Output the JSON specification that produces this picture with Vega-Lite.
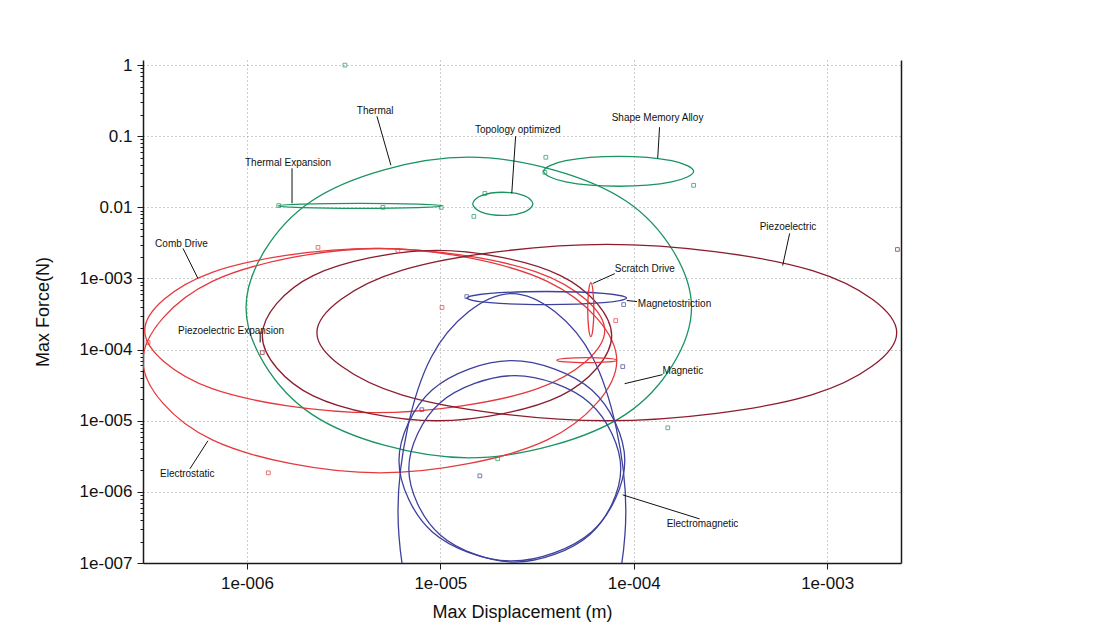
{
  "$schema": "https://vega.github.io/schema/vega-lite/v6.json",
  "width": 758,
  "height": 503,
  "autosize": {"type": "none"},
  "padding": {"left": 143, "top": 60, "right": 208, "bottom": 81},
  "background": "white",
  "config": {
    "view": {"stroke": null},
    "font": "Liberation Sans",
    "axis": {
      "domainColor": "#1a1a1a",
      "domainWidth": 1.5,
      "tickColor": "#1a1a1a",
      "labelColor": "#111",
      "titleColor": "#111",
      "labelFont": "Liberation Sans",
      "titleFont": "Liberation Sans",
      "labelFontSize": 17,
      "titleFontSize": 18,
      "titleFontWeight": "normal",
      "gridColor": "#9a9a9a",
      "gridDash": [1, 3],
      "gridWidth": 1
    }
  },
  "datasets": {
    "curves": [
      {"s": "Thermal", "g": "green", "i": 0, "x": 1.99e-4, "y": 3.91e-4},
      {"s": "Thermal", "g": "green", "i": 1, "x": 9.16e-5, "y": 1.22e-2},
      {"s": "Thermal", "g": "green", "i": 2, "x": 1.40e-5, "y": 5.07e-2},
      {"s": "Thermal", "g": "green", "i": 3, "x": 2.15e-6, "y": 1.22e-2},
      {"s": "Thermal", "g": "green", "i": 4, "x": 9.89e-7, "y": 3.91e-4},
      {"s": "Thermal", "g": "green", "i": 5, "x": 2.15e-6, "y": 1.25e-5},
      {"s": "Thermal", "g": "green", "i": 6, "x": 1.40e-5, "y": 3.01e-6},
      {"s": "Thermal", "g": "green", "i": 7, "x": 9.16e-5, "y": 1.25e-5},

      {"s": "Electrostatic", "g": "red", "i": 0, "x": 8.17e-5, "y": 7.00e-5},
      {"s": "Electrostatic", "g": "red", "i": 1, "x": 3.57e-5, "y": 9.12e-4},
      {"s": "Electrostatic", "g": "red", "i": 2, "x": 4.86e-6, "y": 2.64e-3},
      {"s": "Electrostatic", "g": "red", "i": 3, "x": 6.62e-7, "y": 9.12e-4},
      {"s": "Electrostatic", "g": "red", "i": 4, "x": 2.90e-7, "y": 7.00e-5},
      {"s": "Electrostatic", "g": "red", "i": 5, "x": 6.62e-7, "y": 5.37e-6},
      {"s": "Electrostatic", "g": "red", "i": 6, "x": 4.86e-6, "y": 1.85e-6},
      {"s": "Electrostatic", "g": "red", "i": 7, "x": 3.57e-5, "y": 5.37e-6},

      {"s": "Comb Drive", "g": "red", "i": 0, "x": 7.08e-5, "y": 1.85e-4},
      {"s": "Comb Drive", "g": "red", "i": 1, "x": 3.18e-5, "y": 1.22e-3},
      {"s": "Comb Drive", "g": "red", "i": 2, "x": 4.58e-6, "y": 2.65e-3},
      {"s": "Comb Drive", "g": "red", "i": 3, "x": 6.61e-7, "y": 1.22e-3},
      {"s": "Comb Drive", "g": "red", "i": 4, "x": 2.96e-7, "y": 1.85e-4},
      {"s": "Comb Drive", "g": "red", "i": 5, "x": 6.61e-7, "y": 2.82e-5},
      {"s": "Comb Drive", "g": "red", "i": 6, "x": 4.58e-6, "y": 1.30e-5},
      {"s": "Comb Drive", "g": "red", "i": 7, "x": 3.18e-5, "y": 2.82e-5},

      {"s": "Piezoelectric", "g": "maroon", "i": 0, "x": 2.29e-3, "y": 1.73e-4},
      {"s": "Piezoelectric", "g": "maroon", "i": 1, "x": 8.32e-4, "y": 1.30e-3},
      {"s": "Piezoelectric", "g": "maroon", "i": 2, "x": 7.24e-5, "y": 3.01e-3},
      {"s": "Piezoelectric", "g": "maroon", "i": 3, "x": 6.31e-6, "y": 1.30e-3},
      {"s": "Piezoelectric", "g": "maroon", "i": 4, "x": 2.30e-6, "y": 1.73e-4},
      {"s": "Piezoelectric", "g": "maroon", "i": 5, "x": 6.31e-6, "y": 2.31e-5},
      {"s": "Piezoelectric", "g": "maroon", "i": 6, "x": 7.24e-5, "y": 1.00e-5},
      {"s": "Piezoelectric", "g": "maroon", "i": 7, "x": 8.32e-4, "y": 2.31e-5},

      {"s": "Piezoelectric Expansion", "g": "maroon", "i": 0, "x": 7.69e-5, "y": 1.57e-4},
      {"s": "Piezoelectric Expansion", "g": "maroon", "i": 1, "x": 4.18e-5, "y": 1.10e-3},
      {"s": "Piezoelectric Expansion", "g": "maroon", "i": 2, "x": 9.59e-6, "y": 2.48e-3},
      {"s": "Piezoelectric Expansion", "g": "maroon", "i": 3, "x": 2.20e-6, "y": 1.10e-3},
      {"s": "Piezoelectric Expansion", "g": "maroon", "i": 4, "x": 1.20e-6, "y": 1.57e-4},
      {"s": "Piezoelectric Expansion", "g": "maroon", "i": 5, "x": 2.20e-6, "y": 2.24e-5},
      {"s": "Piezoelectric Expansion", "g": "maroon", "i": 6, "x": 9.59e-6, "y": 1.00e-5},
      {"s": "Piezoelectric Expansion", "g": "maroon", "i": 7, "x": 4.18e-5, "y": 2.24e-5},

      {"s": "Electromagnetic A", "g": "blue", "i": 0, "x": 8.99e-5, "y": 2.74e-6},
      {"s": "Electromagnetic A", "g": "blue", "i": 1, "x": 6.07e-5, "y": 2.71e-5},
      {"s": "Electromagnetic A", "g": "blue", "i": 2, "x": 2.34e-5, "y": 7.00e-5},
      {"s": "Electromagnetic A", "g": "blue", "i": 3, "x": 9.06e-6, "y": 2.71e-5},
      {"s": "Electromagnetic A", "g": "blue", "i": 4, "x": 6.11e-6, "y": 2.74e-6},
      {"s": "Electromagnetic A", "g": "blue", "i": 5, "x": 9.06e-6, "y": 2.76e-7},
      {"s": "Electromagnetic A", "g": "blue", "i": 6, "x": 2.34e-5, "y": 1.07e-7},
      {"s": "Electromagnetic A", "g": "blue", "i": 7, "x": 6.07e-5, "y": 2.76e-7},

      {"s": "Electromagnetic B", "g": "blue", "i": 0, "x": 8.57e-5, "y": 2.11e-6},
      {"s": "Electromagnetic B", "g": "blue", "i": 1, "x": 5.92e-5, "y": 1.78e-5},
      {"s": "Electromagnetic B", "g": "blue", "i": 2, "x": 2.43e-5, "y": 4.31e-5},
      {"s": "Electromagnetic B", "g": "blue", "i": 3, "x": 9.95e-6, "y": 1.78e-5},
      {"s": "Electromagnetic B", "g": "blue", "i": 4, "x": 6.87e-6, "y": 2.11e-6},
      {"s": "Electromagnetic B", "g": "blue", "i": 5, "x": 9.95e-6, "y": 2.50e-7},
      {"s": "Electromagnetic B", "g": "blue", "i": 6, "x": 2.43e-5, "y": 1.03e-7},
      {"s": "Electromagnetic B", "g": "blue", "i": 7, "x": 5.92e-5, "y": 2.50e-7},

      {"s": "Magnetic", "g": "blue", "i": 0, "x": 9.10e-5, "y": 5.40e-7},
      {"s": "Magnetic", "g": "blue", "i": 1, "x": 6.12e-5, "y": 7.82e-5},
      {"s": "Magnetic", "g": "blue", "i": 2, "x": 2.34e-5, "y": 6.14e-4},
      {"s": "Magnetic", "g": "blue", "i": 3, "x": 8.97e-6, "y": 7.82e-5},
      {"s": "Magnetic", "g": "blue", "i": 4, "x": 6.04e-6, "y": 5.40e-7},
      {"s": "Magnetic", "g": "blue", "i": 5, "x": 8.97e-6, "y": 3.72e-9},
      {"s": "Magnetic", "g": "blue", "i": 6, "x": 2.34e-5, "y": 4.74e-10},
      {"s": "Magnetic", "g": "blue", "i": 7, "x": 6.12e-5, "y": 3.72e-9},

      {"s": "Thermal Expansion", "g": "green", "i": 0, "x": 1.02e-5, "y": 1.05e-2},
      {"s": "Thermal Expansion", "g": "green", "i": 1, "x": 7.66e-6, "y": 1.11e-2},
      {"s": "Thermal Expansion", "g": "green", "i": 2, "x": 3.84e-6, "y": 1.14e-2},
      {"s": "Thermal Expansion", "g": "green", "i": 3, "x": 1.92e-6, "y": 1.11e-2},
      {"s": "Thermal Expansion", "g": "green", "i": 4, "x": 1.45e-6, "y": 1.05e-2},
      {"s": "Thermal Expansion", "g": "green", "i": 5, "x": 1.92e-6, "y": 9.91e-3},
      {"s": "Thermal Expansion", "g": "green", "i": 6, "x": 3.84e-6, "y": 9.68e-3},
      {"s": "Thermal Expansion", "g": "green", "i": 7, "x": 7.66e-6, "y": 9.91e-3},

      {"s": "Topology optimized", "g": "green", "i": 0, "x": 3.01e-5, "y": 1.12e-2},
      {"s": "Topology optimized", "g": "green", "i": 1, "x": 2.71e-5, "y": 1.46e-2},
      {"s": "Topology optimized", "g": "green", "i": 2, "x": 2.10e-5, "y": 1.63e-2},
      {"s": "Topology optimized", "g": "green", "i": 3, "x": 1.63e-5, "y": 1.46e-2},
      {"s": "Topology optimized", "g": "green", "i": 4, "x": 1.47e-5, "y": 1.12e-2},
      {"s": "Topology optimized", "g": "green", "i": 5, "x": 1.63e-5, "y": 8.59e-3},
      {"s": "Topology optimized", "g": "green", "i": 6, "x": 2.10e-5, "y": 7.71e-3},
      {"s": "Topology optimized", "g": "green", "i": 7, "x": 2.71e-5, "y": 8.59e-3},

      {"s": "Shape Memory Alloy", "g": "green", "i": 0, "x": 2.04e-4, "y": 3.21e-2},
      {"s": "Shape Memory Alloy", "g": "green", "i": 1, "x": 1.57e-4, "y": 4.53e-2},
      {"s": "Shape Memory Alloy", "g": "green", "i": 2, "x": 8.36e-5, "y": 5.22e-2},
      {"s": "Shape Memory Alloy", "g": "green", "i": 3, "x": 4.45e-5, "y": 4.53e-2},
      {"s": "Shape Memory Alloy", "g": "green", "i": 4, "x": 3.42e-5, "y": 3.21e-2},
      {"s": "Shape Memory Alloy", "g": "green", "i": 5, "x": 4.45e-5, "y": 2.28e-2},
      {"s": "Shape Memory Alloy", "g": "green", "i": 6, "x": 8.36e-5, "y": 1.98e-2},
      {"s": "Shape Memory Alloy", "g": "green", "i": 7, "x": 1.57e-4, "y": 2.28e-2},

      {"s": "Magnetostriction", "g": "blue", "i": 0, "x": 9.18e-5, "y": 5.31e-4},
      {"s": "Magnetostriction", "g": "blue", "i": 1, "x": 6.95e-5, "y": 6.17e-4},
      {"s": "Magnetostriction", "g": "blue", "i": 2, "x": 3.55e-5, "y": 6.56e-4},
      {"s": "Magnetostriction", "g": "blue", "i": 3, "x": 1.81e-5, "y": 6.17e-4},
      {"s": "Magnetostriction", "g": "blue", "i": 4, "x": 1.37e-5, "y": 5.31e-4},
      {"s": "Magnetostriction", "g": "blue", "i": 5, "x": 1.81e-5, "y": 4.57e-4},
      {"s": "Magnetostriction", "g": "blue", "i": 6, "x": 3.55e-5, "y": 4.30e-4},
      {"s": "Magnetostriction", "g": "blue", "i": 7, "x": 6.95e-5, "y": 4.57e-4},

      {"s": "Scratch Drive", "g": "red", "i": 0, "x": 6.22e-5, "y": 3.66e-4},
      {"s": "Scratch Drive", "g": "red", "i": 1, "x": 6.15e-5, "y": 6.79e-4},
      {"s": "Scratch Drive", "g": "red", "i": 2, "x": 6.00e-5, "y": 8.77e-4},
      {"s": "Scratch Drive", "g": "red", "i": 3, "x": 5.85e-5, "y": 6.79e-4},
      {"s": "Scratch Drive", "g": "red", "i": 4, "x": 5.78e-5, "y": 3.66e-4},
      {"s": "Scratch Drive", "g": "red", "i": 5, "x": 5.85e-5, "y": 1.97e-4},
      {"s": "Scratch Drive", "g": "red", "i": 6, "x": 6.00e-5, "y": 1.52e-4},
      {"s": "Scratch Drive", "g": "red", "i": 7, "x": 6.15e-5, "y": 1.97e-4},

      {"s": "Scratch Drive B", "g": "red", "i": 0, "x": 8.17e-5, "y": 7.11e-5},
      {"s": "Scratch Drive B", "g": "red", "i": 1, "x": 7.36e-5, "y": 7.53e-5},
      {"s": "Scratch Drive B", "g": "red", "i": 2, "x": 5.71e-5, "y": 7.71e-5},
      {"s": "Scratch Drive B", "g": "red", "i": 3, "x": 4.44e-5, "y": 7.53e-5},
      {"s": "Scratch Drive B", "g": "red", "i": 4, "x": 4.00e-5, "y": 7.11e-5},
      {"s": "Scratch Drive B", "g": "red", "i": 5, "x": 4.44e-5, "y": 6.71e-5},
      {"s": "Scratch Drive B", "g": "red", "i": 6, "x": 5.71e-5, "y": 6.56e-5},
      {"s": "Scratch Drive B", "g": "red", "i": 7, "x": 7.36e-5, "y": 6.71e-5}
    ],
    "leaders": [
      {"s": "Thermal", "x": 4.70e-6, "y": 0.191, "x2": 5.55e-6, "y2": 0.0391},
      {"s": "Thermal Expansion", "x": 1.71e-6, "y": 0.0354, "x2": 1.71e-6, "y2": 0.0114},
      {"s": "Topology optimized", "x": 2.45e-5, "y": 0.1, "x2": 2.34e-5, "y2": 0.0157},
      {"s": "Shape Memory Alloy", "x": 1.36e-4, "y": 0.134, "x2": 1.33e-4, "y2": 0.049},
      {"s": "Comb Drive", "x": 4.67e-7, "y": 2.65e-3, "x2": 5.58e-7, "y2": 1.0e-3},
      {"s": "Piezoelectric", "x": 6.40e-4, "y": 4.31e-3, "x2": 5.89e-4, "y2": 1.52e-3},
      {"s": "Scratch Drive", "x": 7.98e-5, "y": 1.17e-3, "x2": 6.14e-5, "y2": 8.51e-4},
      {"s": "Magnetostriction", "x": 9.20e-5, "y": 4.90e-4, "x2": 1.04e-4, "y2": 4.74e-4},
      {"s": "Piezoelectric Expansion", "x": 1.17e-6, "y": 1.79e-4, "x2": 1.17e-6, "y2": 1.26e-4},
      {"s": "Magnetic", "x": 1.41e-4, "y": 4.45e-5, "x2": 8.97e-5, "y2": 3.32e-5},
      {"s": "Electrostatic", "x": 5.07e-7, "y": 2.11e-6, "x2": 6.28e-7, "y2": 5.22e-6},
      {"s": "Electromagnetic", "x": 8.77e-5, "y": 9.08e-7, "x2": 2.19e-4, "y2": 4.17e-7}
    ],
    "labels": [
      {"t": "Thermal", "x": 3.70e-6, "y": 0.225},
      {"t": "Thermal Expansion", "x": 9.77e-7, "y": 0.0417},
      {"t": "Topology optimized", "x": 1.51e-5, "y": 0.122},
      {"t": "Shape Memory Alloy", "x": 7.69e-5, "y": 0.179},
      {"t": "Comb Drive", "x": 3.35e-7, "y": 3.01e-3},
      {"t": "Piezoelectric", "x": 4.48e-4, "y": 5.22e-3},
      {"t": "Scratch Drive", "x": 7.98e-5, "y": 1.38e-3},
      {"t": "Magnetostriction", "x": 1.05e-4, "y": 4.45e-4},
      {"t": "Piezoelectric Expansion", "x": 4.40e-7, "y": 1.85e-4},
      {"t": "Magnetic", "x": 1.41e-4, "y": 5.06e-5},
      {"t": "Electrostatic", "x": 3.55e-7, "y": 1.79e-6},
      {"t": "Electromagnetic", "x": 1.48e-4, "y": 3.54e-7}
    ],
    "markers": [
      {"g": "green", "f": 0, "x": 3.21e-6, "y": 1.0},
      {"g": "green", "f": 0, "x": 1.46e-6, "y": 1.06e-2},
      {"g": "green", "f": 0, "x": 5.05e-6, "y": 1.0e-2},
      {"g": "green", "f": 0, "x": 1.01e-5, "y": 1.0e-2},
      {"g": "green", "f": 0, "x": 1.70e-5, "y": 1.57e-2},
      {"g": "green", "f": 0, "x": 1.49e-5, "y": 7.46e-3},
      {"g": "green", "f": 0, "x": 3.51e-5, "y": 5.06e-2},
      {"g": "green", "f": 0, "x": 3.47e-5, "y": 3.11e-2},
      {"g": "green", "f": 0, "x": 2.04e-4, "y": 2.04e-2},
      {"g": "green", "f": 0, "x": 1.50e-4, "y": 7.96e-6},
      {"g": "green", "f": 0, "x": 1.98e-5, "y": 2.92e-6},
      {"g": "red", "f": 0, "x": 2.33e-6, "y": 2.74e-3},
      {"g": "red", "f": 0, "x": 6.03e-6, "y": 2.48e-3},
      {"g": "red", "f": 0, "x": 3.08e-7, "y": 1.26e-4},
      {"g": "red", "f": 0, "x": 1.29e-6, "y": 1.85e-6},
      {"g": "red", "f": 0, "x": 1.02e-5, "y": 3.91e-4},
      {"g": "red", "f": 0, "x": 8.07e-5, "y": 2.56e-4},
      {"g": "maroon", "f": 1, "x": 1.20e-6, "y": 9.08e-5},
      {"g": "maroon", "f": 0, "x": 2.31e-3, "y": 2.56e-3},
      {"g": "blue", "f": 0, "x": 1.37e-5, "y": 5.57e-4},
      {"g": "blue", "f": 0, "x": 8.87e-5, "y": 4.30e-4},
      {"g": "blue", "f": 0, "x": 8.77e-5, "y": 5.77e-5},
      {"g": "blue", "f": 0, "x": 1.60e-5, "y": 1.68e-6},
      {"g": "blue", "f": 0, "x": 8.02e-6, "y": 1.43e-5}
    ]
  },
  "resolve": {"axis": {"y": "independent"}},
  "layer": [
    {
      "data": {"name": "curves"},
      "mark": {"type": "line", "interpolate": "cardinal-closed", "strokeWidth": 1.3, "clip": true},
      "encoding": {
        "x": {
          "field": "x", "type": "quantitative",
          "scale": {"type": "log", "domain": [2.90e-7, 2.41e-3], "nice": false},
          "axis": {
            "title": "Max Displacement (m)",
            "values": [1e-6, 1e-5, 1e-4, 1e-3],
            "labelExpr": "'1e-00' + format(-round(log(datum.value)/LN10), 'd')",
            "tickSize": 6,
            "labelPadding": 6,
            "titlePadding": 12,
            "labelFlush": false,
            "labelOverlap": false,
            "grid": true
          }
        },
        "y": {
          "field": "y", "type": "quantitative",
          "scale": {"type": "log", "domain": [1e-7, 1.18], "nice": false},
          "axis": {
            "title": "Max Force(N)",
            "values": [1e-7, 2e-7, 3e-7, 4e-7, 5e-7, 6e-7, 7e-7, 8e-7, 9e-7,
                       1e-6, 2e-6, 3e-6, 4e-6, 5e-6, 6e-6, 7e-6, 8e-6, 9e-6,
                       1e-5, 2e-5, 3e-5, 4e-5, 5e-5, 6e-5, 7e-5, 8e-5, 9e-5,
                       1e-4, 2e-4, 3e-4, 4e-4, 5e-4, 6e-4, 7e-4, 8e-4, 9e-4,
                       1e-3, 2e-3, 3e-3, 4e-3, 5e-3, 6e-3, 7e-3, 8e-3, 9e-3,
                       1e-2, 2e-2, 3e-2, 4e-2, 5e-2, 6e-2, 7e-2, 8e-2, 9e-2,
                       1e-1, 2e-1, 3e-1, 4e-1, 5e-1, 6e-1, 7e-1, 8e-1, 9e-1, 1],
            "labelExpr": "abs(log(datum.value)/LN10 - round(log(datum.value)/LN10)) > 0.01 ? '' : (datum.value >= 0.01 ? format(datum.value, '') : '1e-00' + format(-round(log(datum.value)/LN10), 'd'))",
            "labelOverlap": false,
            "labelBound": false,
            "labelFlush": false,
            "labelPadding": 5,
            "titlePadding": 27,
            "tickSize": {"condition": {"test": "abs(log(datum.value)/LN10 - round(log(datum.value)/LN10)) < 0.01", "value": 6}, "value": 3},
            "gridOpacity": {"condition": {"test": "abs(log(datum.value)/LN10 - round(log(datum.value)/LN10)) < 0.01", "value": 1}, "value": 0},
            "grid": true
          }
        },
        "color": {
          "field": "g", "type": "nominal",
          "scale": {"domain": ["green", "red", "maroon", "blue"], "range": ["#1a9460", "#e5393e", "#8c1d2e", "#3d409c"]},
          "legend": null
        },
        "detail": {"field": "s", "type": "nominal"},
        "order": {"field": "i", "type": "quantitative"}
      }
    },
    {
      "data": {"name": "leaders"},
      "mark": {"type": "rule", "color": "#111", "strokeWidth": 1, "clip": true},
      "encoding": {
        "x": {"field": "x", "type": "quantitative"},
        "x2": {"field": "x2"},
        "y": {"field": "y", "type": "quantitative", "axis": null},
        "y2": {"field": "y2"}
      }
    },
    {
      "data": {"name": "markers"},
      "mark": {"type": "point", "shape": "square", "size": 14, "strokeWidth": 1, "clip": true},
      "encoding": {
        "x": {"field": "x", "type": "quantitative"},
        "y": {"field": "y", "type": "quantitative", "axis": null},
        "color": {"field": "g", "type": "nominal", "legend": null},
        "fillOpacity": {"field": "f", "type": "quantitative", "scale": {"domain": [0, 1], "range": [0, 1]}, "legend": null}
      }
    },
    {
      "data": {"name": "labels"},
      "mark": {"type": "text", "align": "left", "baseline": "middle", "fontSize": 10, "font": "Liberation Sans", "color": "#111"},
      "encoding": {
        "x": {"field": "x", "type": "quantitative"},
        "y": {
          "field": "y", "type": "quantitative",
          "axis": {"orient": "right", "labels": false, "ticks": false, "grid": false, "title": null, "domain": true}
        },
        "text": {"field": "t"}
      }
    }
  ]
}
